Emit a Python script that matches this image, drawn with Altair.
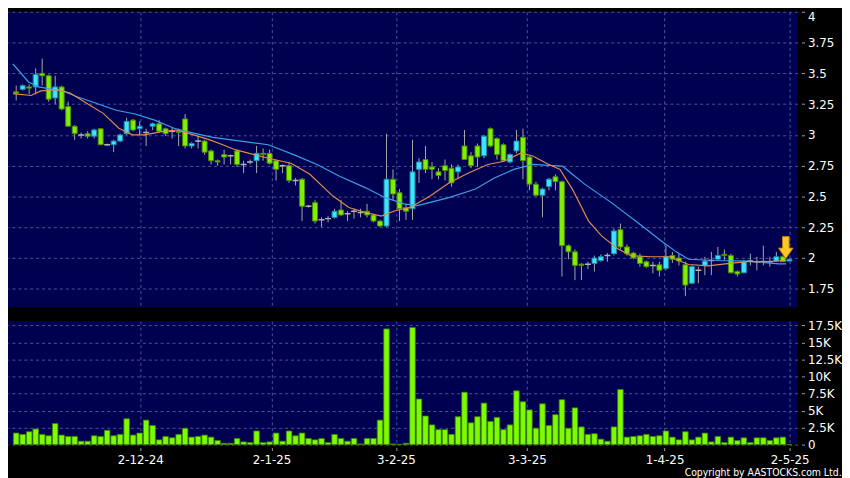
import altair as alt
import pandas as pd

# ---- candle data ----
open_p = [3.35, 3.37, 3.39, 3.39, 3.50, 3.48, 3.30, 3.39, 3.23, 3.07,
          3.00, 3.01, 2.99, 3.05, 2.92, 2.92, 2.95, 3.01, 3.12, 3.05,
          3.02, 3.07, 3.09, 3.05, 3.03, 3.03, 3.13, 2.91, 2.95, 2.95,
          2.87, 2.79, 2.84, 2.83, 2.87, 2.76, 2.78, 2.79, 2.85, 2.85,
          2.79, 2.75, 2.75, 2.63, 2.64, 2.42, 2.45, 2.31, 2.32, 2.33,
          2.39, 2.36, 2.38, 2.37, 2.38, 2.35, 2.30, 2.26, 2.64, 2.53,
          2.41, 2.40, 2.72, 2.80, 2.74, 2.70, 2.75, 2.73, 2.70, 2.91,
          2.83, 2.91, 2.83, 3.05, 2.97, 2.92, 2.78, 2.87, 2.98, 2.82,
          2.60, 2.51, 2.58, 2.66, 2.62, 2.10, 2.05, 1.95, 1.95, 1.955,
          1.98, 2.02, 2.035, 2.23, 2.09, 2.04, 2.01, 1.97, 1.94, 1.945,
          1.915, 2.02, 2.00, 1.945, 1.795, 1.90, 1.94, 1.98, 1.99, 2.03,
          2.02, 1.89, 1.88, 1.975, 1.97, 1.975, 1.97, 1.975, 2.01, 1.975]
high_p = [3.40, 3.41, 3.41, 3.54, 3.62, 3.49, 3.48, 3.40, 3.27, 3.08,
          3.02, 3.03, 3.05, 3.05, 2.93, 2.96, 3.01, 3.14, 3.13, 3.11,
          3.05, 3.10, 3.12, 3.06, 3.06, 3.05, 3.17, 2.94, 2.99, 2.96,
          2.88, 2.80, 2.88, 2.84, 2.88, 2.79, 2.80, 2.91, 2.89, 2.88,
          2.80, 2.76, 2.78, 2.65, 2.65, 2.43, 2.47, 2.33, 2.34, 2.40,
          2.47, 2.38, 2.40, 2.40, 2.44, 2.36, 2.31, 3.01, 2.72, 2.56,
          2.44, 2.96, 2.81, 2.91, 2.78, 2.73, 2.80, 2.76, 2.76, 3.04,
          2.86, 2.93, 3.00, 3.06, 2.98, 2.93, 2.85, 3.04, 3.05, 2.83,
          2.62, 2.57, 2.65, 2.68, 2.63, 2.11, 2.07, 1.96, 1.97, 2.02,
          2.03, 2.04, 2.24, 2.28, 2.11, 2.05, 2.035, 1.98, 1.97, 1.97,
          2.10, 2.05, 2.035, 1.97, 1.94, 1.93, 2.01, 2.05, 2.09, 2.07,
          2.035, 1.90, 1.985, 2.035, 2.01, 2.10, 2.01, 2.05, 2.02, 1.995]
low_p = [3.28, 3.36, 3.33, 3.33, 3.40, 3.27, 3.25, 3.20, 3.07, 2.96,
         2.97, 2.97, 2.97, 2.92, 2.91, 2.86, 2.94, 3.00, 3.03, 3.00,
         2.91, 3.04, 3.02, 2.99, 2.97, 2.91, 2.89, 2.89, 2.89, 2.84,
         2.76, 2.75, 2.76, 2.76, 2.74, 2.69, 2.76, 2.69, 2.79, 2.76,
         2.63, 2.69, 2.61, 2.59, 2.30, 2.41, 2.28, 2.25, 2.29, 2.32,
         2.34, 2.30, 2.32, 2.33, 2.33, 2.29, 2.25, 2.25, 2.47, 2.30,
         2.31, 2.31, 2.61, 2.69, 2.64, 2.64, 2.63, 2.58, 2.64, 2.80,
         2.73, 2.74, 2.81, 2.90, 2.80, 2.78, 2.77, 2.85, 2.64, 2.55,
         2.50, 2.33, 2.55, 2.55, 1.85, 1.99, 1.82, 1.82, 1.91, 1.89,
         1.97, 1.97, 2.02, 2.07, 2.02, 1.99, 1.93, 1.92, 1.875, 1.85,
         1.90, 1.96, 1.94, 1.69, 1.79, 1.795, 1.86, 1.86, 1.98, 1.98,
         1.875, 1.85, 1.875, 1.94, 1.90, 1.94, 1.93, 1.97, 1.97, 1.975]
close_p = [3.34, 3.40, 3.38, 3.49, 3.48, 3.29, 3.39, 3.21, 3.07, 3.01,
           3.00, 2.99, 3.04, 2.92, 2.92, 2.95, 3.00, 3.11, 3.04, 3.07,
           3.02, 3.09, 3.03, 3.01, 3.03, 3.02, 2.91, 2.93, 2.95, 2.86,
           2.79, 2.78, 2.82, 2.83, 2.76, 2.76, 2.78, 2.85, 2.84, 2.77,
           2.72, 2.75, 2.63, 2.63, 2.42, 2.42, 2.30, 2.31, 2.32, 2.38,
           2.35, 2.36, 2.38, 2.37, 2.35, 2.30, 2.26, 2.64, 2.52, 2.40,
           2.38, 2.70, 2.78, 2.72, 2.72, 2.67, 2.71, 2.61, 2.74, 2.80,
           2.75, 2.82, 2.99, 2.91, 2.84, 2.79, 2.84, 2.95, 2.79, 2.60,
           2.51, 2.56, 2.64, 2.62, 2.10, 2.05, 1.94, 1.94, 1.95, 2.00,
           2.01, 2.02, 2.22, 2.09, 2.035, 2.00, 1.955, 1.93, 1.94, 1.90,
           2.01, 1.99, 1.975, 1.78, 1.93, 1.90, 1.975, 1.98, 2.02, 2.02,
           1.88, 1.87, 1.97, 1.975, 1.97, 1.97, 1.97, 2.01, 1.97, 1.99]
volume_k = [1.7, 1.5, 1.9, 2.3, 1.5, 1.3, 3.1, 1.4, 1.2, 1.2,
            0.5, 0.5, 1.3, 1.2, 2.1, 1.3, 1.5, 3.8, 1.4, 1.7,
            3.6, 2.8, 0.7, 1.2, 1.0, 1.5, 2.4, 1.1, 1.2, 1.4,
            1.1, 0.6, 0.2, 0.2, 0.9, 0.4, 0.3, 2.0, 0.3, 0.4,
            1.7, 0.5, 2.0, 1.3, 1.7, 0.9, 0.7, 0.9, 0.3, 1.5,
            0.9, 0.5, 0.9, 0.1, 0.9, 0.9, 3.6, 17.0, 0.1, 0.05,
            0.2, 17.2, 6.7, 4.2, 2.9, 2.2, 2.2, 1.5, 4.1, 7.7,
            3.2, 4.1, 6.1, 3.4, 4.0, 2.2, 2.9, 7.9, 6.3, 5.1,
            2.4, 6.0, 2.8, 4.4, 6.6, 2.4, 5.4, 2.6, 1.5, 1.6,
            0.8, 0.5, 2.6, 8.1, 1.1, 1.2, 1.3, 1.5, 1.2, 1.3,
            2.0, 1.1, 0.7, 1.9, 0.7, 1.1, 1.7, 0.4, 1.2, 0.3,
            1.1, 0.6, 1.0, 0.3, 1.0, 1.0, 0.6, 1.0, 1.1, 0.0]

# moving averages as drawn
ma_fast_idx = [-0.5, 2.3, 3.8, 6.4, 8.3, 10.9, 13.4, 15.8, 17.9, 19.8, 22.4, 24.8,
               27.3, 29.8, 31.8, 33.7, 38.8, 42.3, 45.2, 48.7, 51.2, 53.8, 56.2,
               58.3, 60.6, 63.6, 66.6, 69.6, 72.6, 75.1, 77.7, 79.6, 81.6, 83.7,
               85.6, 88.1, 90.1, 92.6, 94.6, 97.6, 100.5, 103.5, 106.5, 109.5,
               112.5, 115.5, 118.5]
ma_fast = [3.335, 3.32, 3.357, 3.367, 3.34, 3.255, 3.175, 3.054, 3.0, 3.0, 3.027,
           3.04, 3.0, 2.96, 2.92, 2.88, 2.81, 2.77, 2.68, 2.505, 2.41, 2.37, 2.34,
           2.384, 2.41, 2.50, 2.61, 2.69, 2.76, 2.786, 2.853, 2.827, 2.77, 2.72,
           2.56, 2.30, 2.18, 2.075, 2.02, 2.01, 2.01, 1.947, 1.936, 1.955, 1.97,
           1.97, 1.98]
ma_slow_idx = [-0.5, 1.9, 3.4, 7.1, 9.4, 12.4, 15.4, 18.3, 21.3, 24.3, 27.3, 30.3,
               33.7, 38.8, 42.7, 46.3, 49.7, 53.8, 56.8, 59.7, 61.7, 63.6, 66.6,
               70.7, 73.6, 76.6, 79.6, 82.6, 84.1, 85.6, 87.5, 91.6, 95.6, 99.5,
               101.6, 103.5, 107.6, 112.5, 117.4, 118.5]
ma_slow = [3.576, 3.43, 3.39, 3.357, 3.31, 3.255, 3.20, 3.17, 3.12, 3.054, 3.014,
           2.98, 2.955, 2.92, 2.84, 2.76, 2.666, 2.57, 2.49, 2.44, 2.425, 2.45,
           2.49, 2.56, 2.65, 2.72, 2.76, 2.75, 2.746, 2.68, 2.60, 2.45, 2.29, 2.13,
           2.05, 1.99, 1.98, 1.975, 1.953, 1.953]

tick_index = [19.1, 39.3, 58.45, 78.6, 99.8, 119.05]
tick_labels = ["2-12-24", "2-1-25", "3-2-25", "3-3-25", "1-4-25", "2-5-25"]
price_ticks = [1.75, 2.0, 2.25, 2.5, 2.75, 3.0, 3.25, 3.5, 3.75, 4.0]
vol_ticks = [0, 2.5, 5, 7.5, 10, 12.5, 15, 17.5]
arrow_index = [118]
arrow_price = [2.085]

# ---- tables ----
n = len(close_p)
direction = ["up" if c > o else ("down" if c < o else "flat") for o, c in zip(open_p, close_p)]
candles = pd.DataFrame({"i": list(range(n)), "open": open_p, "high": high_p, "low": low_p,
                        "close": close_p, "dir": direction, "vol": volume_k})
fast_df = pd.DataFrame({"i": ma_fast_idx, "v": ma_fast})
slow_df = pd.DataFrame({"i": ma_slow_idx, "v": ma_slow})
arrow_df = pd.DataFrame({"i": arrow_index, "p": arrow_price})

x_scale = alt.Scale(domain=[-0.5, 119.5], nice=False, zero=False)
y_scale = alt.Scale(domain=[1.6, 4.0], nice=False, zero=False)

label_expr = "".join(f"datum.value == {v} ? '{l}' : " for v, l in zip(tick_index, tick_labels)) + "''"

x_price = alt.X("i:Q", scale=x_scale,
                axis=alt.Axis(values=tick_index, tickCount=len(tick_index), labels=False,
                              ticks=False, domain=False, grid=True, title=None))
price_axis = alt.Axis(orient="right", values=price_ticks, tickCount=len(price_ticks),
                      labelExpr="datum.value + ''",
                      tickSize=3, offset=4, labelPadding=3, labelFlush=True,
                      labelOverlap=False, domain=False, grid=True, title=None)

PW = 799

wick = alt.Chart(candles).mark_rule(color="#a9a9a9", strokeWidth=1, clip=True).encode(
    x=x_price, y=alt.Y("low:Q", scale=y_scale, axis=price_axis), y2="high:Q")

body = alt.Chart(candles).transform_filter("datum.dir != 'flat'").mark_bar(
    size=5, strokeWidth=1, clip=True).encode(
    x=alt.X("i:Q", scale=x_scale),
    y=alt.Y("open:Q", scale=y_scale),
    y2="close:Q",
    fill=alt.Fill("dir:N", scale=alt.Scale(domain=["up", "down"], range=["#3ee4ff", "#80f000"]), legend=None),
    stroke=alt.Stroke("dir:N", scale=alt.Scale(domain=["up", "down"], range=["#1b8aa8", "#4b8a00"]), legend=None),
)

flat = alt.Chart(candles).transform_filter("datum.dir == 'flat'").mark_rule(
    color="#b4b4b4", strokeWidth=1.5, xOffset=-3, x2Offset=3, clip=True).encode(
    x=alt.X("i:Q", scale=x_scale), x2="i:Q", y=alt.Y("close:Q", scale=y_scale))

slow_line = alt.Chart(slow_df).mark_line(color="#3a9fe6", strokeWidth=1.2, clip=True).encode(
    x=alt.X("i:Q", scale=x_scale), y=alt.Y("v:Q", scale=y_scale))
fast_line = alt.Chart(fast_df).mark_line(color="#e08a50", strokeWidth=1.2, clip=True).encode(
    x=alt.X("i:Q", scale=x_scale), y=alt.Y("v:Q", scale=y_scale))

arrow_path = "M -0.3 -1 L 0.3 -1 L 0.3 0.05 L 0.66 0.05 L 0 1 L -0.66 0.05 L -0.3 0.05 Z"
arrow = alt.Chart(arrow_df).mark_point(shape=arrow_path, size=500, filled=True, fill="#ffc820",
                                       stroke="#c27a10", strokeWidth=1, opacity=1, xOffset=3).encode(
    x=alt.X("i:Q", scale=x_scale), y=alt.Y("p:Q", scale=y_scale))

price = alt.layer(wick, body, flat, slow_line, fast_line, arrow).properties(width=PW, height=299)

vol_label = "datum.value == 0 ? '0' : format(datum.value, '~g') + 'K'"
volume = alt.Chart(candles).mark_bar(size=5.6, fill="#7cfc00", stroke="#3f8000", strokeWidth=0.8).encode(
    x=alt.X("i:Q", scale=x_scale,
            axis=alt.Axis(values=tick_index, tickCount=len(tick_index), labelExpr=label_expr,
                          tickSize=3, offset=3, labelPadding=4, grid=True, domain=False,
                          labelFlush=False, labelOverlap=False, title=None)),
    y=alt.Y("vol:Q", scale=alt.Scale(domain=[0, 18.15], nice=False),
            axis=alt.Axis(orient="right", values=vol_ticks, tickCount=len(vol_ticks),
                          labelExpr=vol_label, tickSize=3, offset=4, labelPadding=3,
                          labelOverlap=False, domain=False, grid=True, title=None)),
).properties(width=PW, height=125)

chart = alt.vconcat(price, volume, spacing=12).properties(
    padding={"left": 0, "top": 0, "right": 0, "bottom": 0},
    background="#000000",
    title=alt.TitleParams(text="Copyright by AASTOCKS.com Ltd.", orient="bottom", anchor="end",
                          color="#ffffff", fontSize=10.5, fontWeight="normal",
                          font="DejaVu Sans Condensed, DejaVu Sans", offset=3, frame="bounds"),
).configure_view(fill="#000050", stroke=None).configure_axis(
    labelColor="#ffffff", labelFont="DejaVu Sans", labelFontSize=12, tickColor="#a0a0a0",
    gridColor="#5a5aa0", gridDash=[3, 3], gridWidth=1, gridOpacity=0.9,
).configure_concat(spacing=12)

chart.save("out.html", embed_options={"renderer": "svg", "actions": False})
